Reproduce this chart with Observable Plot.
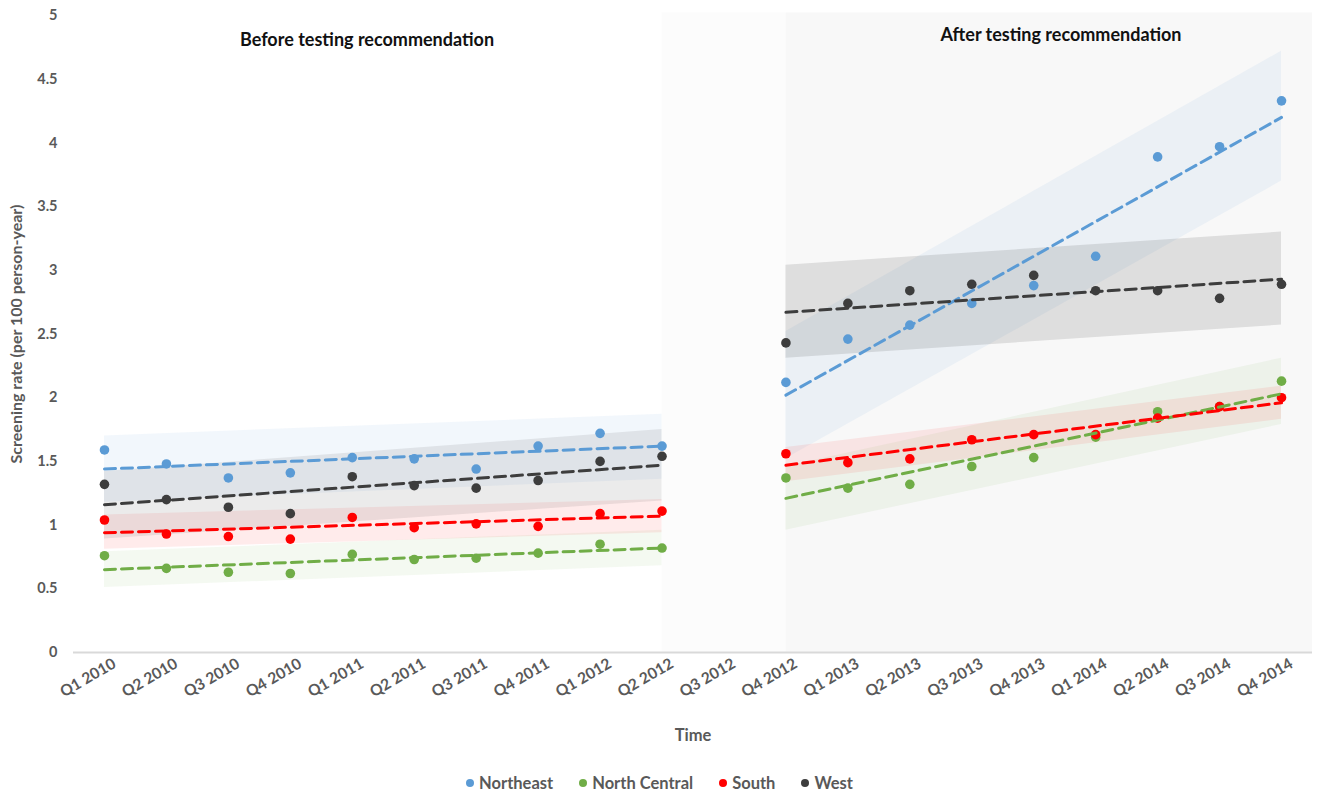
<!DOCTYPE html>
<html>
<head>
<meta charset="utf-8">
<script src="https://cdn.jsdelivr.net/npm/d3@7"></script>
<script src="https://cdn.jsdelivr.net/npm/@observablehq/plot@0.6"></script>
<style>
  body { margin: 0; background: #fff; font-family: Lato, "DejaVu Sans", sans-serif; }
  #legend { display: flex; justify-content: center; align-items: center; gap: 26px; font: bold 16.5px Lato, sans-serif; color: #595959; height: 26px; margin-top: 10px; }
  #legend .item { display: flex; align-items: center; }
  #legend .sw { display: inline-block; width: 8px; height: 8px; border-radius: 50%; margin-right: 5px; }
</style>
</head>
<body>
<div id="chart"></div>
<div id="legend"></div>
<script>
// ---- data ----
const quarters = ["Q1 2010","Q2 2010","Q3 2010","Q4 2010","Q1 2011","Q2 2011","Q3 2011","Q4 2011",
  "Q1 2012","Q2 2012","Q3 2012","Q4 2012","Q1 2013","Q2 2013","Q3 2013","Q4 2013",
  "Q1 2014","Q2 2014","Q3 2014","Q4 2014"];
const regions = ["Northeast", "North Central", "South", "West"];
const regionColors = ["#5b9bd5", "#70ad47", "#ff0000", "#3d3d3d"];

const northeast    = [1.59,1.48,1.37,1.41,1.53,1.52,1.44,1.62,1.72,1.62,null,2.12,2.46,2.57,2.74,2.88,3.11,3.89,3.97,4.33];
const northCentral = [0.76,0.66,0.63,0.62,0.77,0.73,0.74,0.78,0.85,0.82,null,1.37,1.29,1.32,1.46,1.53,1.69,1.89,1.93,2.13];
const south        = [1.04,0.93,0.91,0.89,1.06,0.98,1.01,0.99,1.09,1.11,null,1.56,1.49,1.52,1.67,1.71,1.71,1.84,1.93,2.00];
const west         = [1.32,1.20,1.14,1.09,1.38,1.31,1.29,1.35,1.50,1.54,null,2.43,2.74,2.84,2.89,2.96,2.84,2.84,2.78,2.89];
const seriesValues = [northeast, northCentral, south, west];

// fitted segments (before / after): [region][segment]
const segmentStart = ["Q1 2010", "Q4 2012"];
const segmentEnd   = ["Q2 2012", "Q4 2014"];
const trendStart    = [[1.44, 2.02], [0.65, 1.21], [0.94, 1.47], [1.16, 2.67]];
const trendEnd      = [[1.62, 4.20], [0.82, 2.03], [1.07, 1.96], [1.47, 2.93]];
const bandLowStart  = [[1.18, 1.52], [0.51, 0.96], [0.81, 1.34], [0.89, 2.31]];
const bandHighStart = [[1.70, 2.52], [0.79, 1.46], [1.08, 1.61], [1.42, 3.04]];
const bandLowEnd    = [[1.36, 3.70], [0.68, 1.79], [0.94, 1.83], [1.19, 2.57]];
const bandHighEnd   = [[1.87, 4.72], [0.96, 2.31], [1.20, 2.09], [1.75, 3.30]];

// shaded periods
const periodFrom = ["Q2 2012", "Q4 2012"];
const periodTo   = ["Q4 2012", "Q4 2014"];
const periodShades = ["#fcfcfc", "#f8f8f8"];

const annotations = ["Before testing recommendation", "After testing recommendation"];
const yTicks = [0, 0.5, 1, 1.5, 2, 2.5, 3, 3.5, 4, 4.5, 5];

// ---- build tables ----
const qi = q => quarters.indexOf(q);
const last = quarters.length - 1;
const points = [];
seriesValues.forEach((vals, r) => vals.forEach((v, i) => {
  if (v != null) points.push({region: regions[r], x: i, y: v});
}));
const fits = [];
regions.forEach((reg, r) => segmentStart.forEach((s, k) => {
  const key = reg + "-" + k;
  fits.push({key, region: reg, x: qi(s), fit: trendStart[r][k], lo: bandLowStart[r][k], hi: bandHighStart[r][k]});
  fits.push({key, region: reg, x: qi(segmentEnd[k]), fit: trendEnd[r][k], lo: bandLowEnd[r][k], hi: bandHighEnd[r][k]});
}));
const periods = periodFrom.map((f, i) => ({
  x1: qi(f), x2: qi(periodTo[i]) === last ? last + 0.5 : qi(periodTo[i]), shade: periodShades[i]
}));

const chart = Plot.plot({
  width: 1319,
  height: 760,
  marginLeft: 73,
  marginRight: 7,
  marginTop: 15,
  marginBottom: 108,
  style: {fontFamily: "Lato, sans-serif", fontSize: "14px", fontWeight: "bold", color: "#595959", background: "#fff"},
  x: {domain: [-0.5, last + 0.5]},
  y: {domain: [0, 5]},
  color: {domain: regions, range: regionColors},
  marks: [
    ...periods.map(p => Plot.rect([p], {x1: "x1", x2: "x2", y1: 0, y2: 5.02, fill: p.shade})),
    Plot.areaY(fits, {x: "x", y1: "lo", y2: "hi", z: "key", fill: "region",
      fillOpacity: d => d.region === "West" ? (d.x > 10 ? 0.14 : 0.1) : 0.08}),
    Plot.ruleY([0], {stroke: "#d9d9d9", strokeWidth: 2}),
    Plot.dot(points, {x: "x", y: "y", fill: "region", r: 4.8}),
    Plot.line(fits, {x: "x", y: "fit", z: "key", stroke: "region", strokeWidth: 3, strokeDasharray: "11,6"}),
    Plot.axisX({ticks: d3.range(quarters.length), tickFormat: i => quarters[i], tickRotate: -30, tickSize: 0, tickPadding: 10,
      dx: 10, fontSize: 15.5}),
    Plot.axisX({ticks: [], label: "Time", labelAnchor: "center", labelOffset: 88, labelArrow: "none", fontSize: 16.5}),
    Plot.axisY({ticks: yTicks, tickFormat: d3.format("~g"), tickSize: 0, tickPadding: 16, fontSize: 14.5}),
    Plot.axisY({ticks: [], label: "Screening rate (per 100 person-year)", labelAnchor: "center", labelOffset: 63, labelArrow: "none", fontSize: 16}),
    Plot.text([annotations[0]], {frameAnchor: "top", dx: -326, dy: 25, lineAnchor: "middle", fill: "#111", fontSize: 18, fontWeight: "bold"}),
    Plot.text([annotations[1]], {frameAnchor: "top", dx: 368, dy: 20, lineAnchor: "middle", fill: "#111", fontSize: 18, fontWeight: "bold"})
  ]
});
document.getElementById("chart").appendChild(chart);

const legend = document.getElementById("legend");
regions.forEach((reg, i) => {
  const item = document.createElement("span");
  item.className = "item";
  const sw = document.createElement("span");
  sw.className = "sw";
  sw.style.background = regionColors[i];
  item.appendChild(sw);
  item.appendChild(document.createTextNode(reg));
  legend.appendChild(item);
});
</script>
</body>
</html>
